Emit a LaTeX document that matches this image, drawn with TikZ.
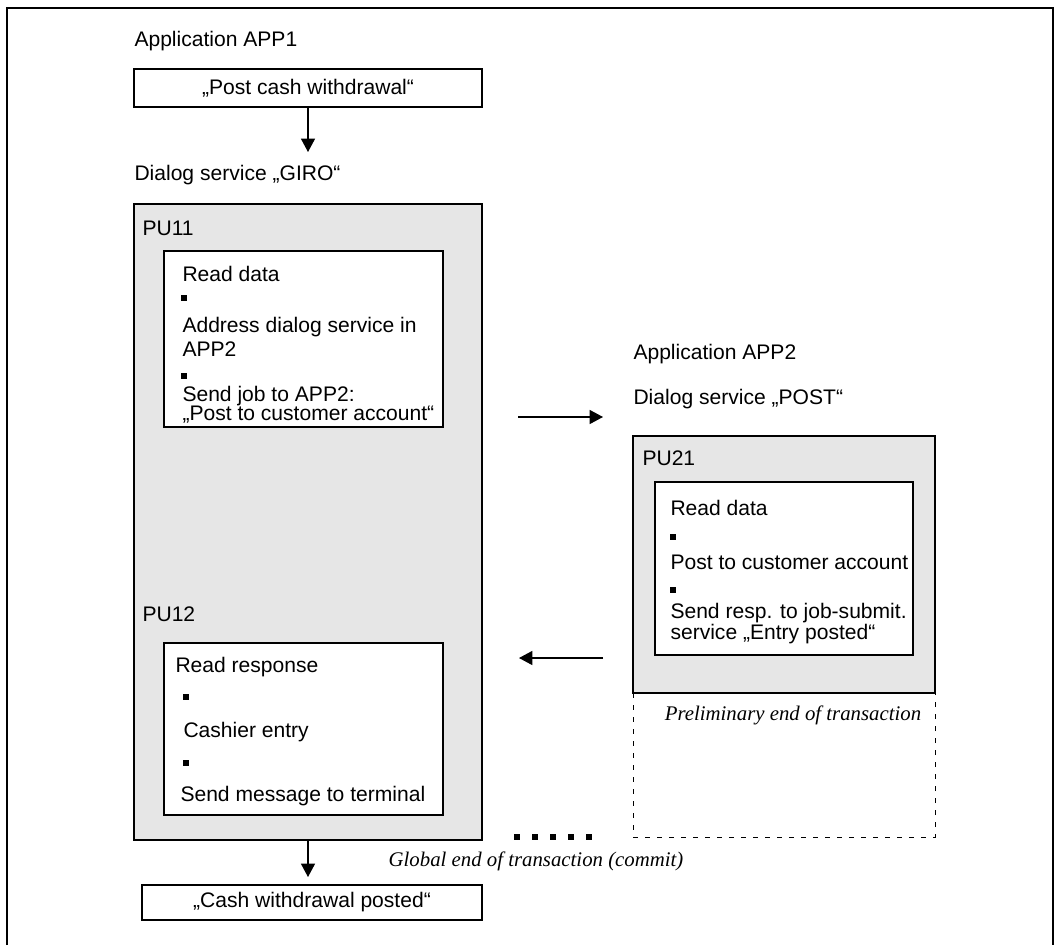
\documentclass[tikz,border=0pt]{standalone}
\usepackage{fontspec}
\setmainfont{Liberation Sans}
\newfontfamily\notefont{Liberation Serif}
\usetikzlibrary{arrows.meta}

\definecolor{pugray}{RGB}{230,230,230}

\tikzset{every picture/.style={line width=0.75pt}}
\tikzset{
	txt/.style={anchor=base west, inner sep=0pt, align=left, font=\fontsize{15.8}{14.25}\selectfont},
	note/.style={anchor=base, inner sep=0pt, font=\notefont\itshape\fontsize{15.6}{18}\selectfont},
	box/.style={draw, fill=white, inner sep=0pt, outer sep=0pt, line width=0.9pt, font=\fontsize{15.8}{18}\selectfont},
	pubox/.style={draw, fill=pugray, inner sep=0pt, outer sep=0pt, line width=0.9pt},
	dot/.style={fill, inner sep=0pt, minimum size=4pt},
	arr/.style={-{Triangle[length=10pt,width=10.5pt]}, line width=0.9pt},
	endline/.style={line width=0.75pt, dash pattern=on 3.75pt off 5.25pt}
}

\begin{document}
\begin{tikzpicture}[x=0.75pt,y=0.75pt,yscale=-1,xscale=1]
	\useasboundingbox (0,0) rectangle (1055,945);

	% Frame
	\draw [line width=1.2pt] (7,945) -- (7,8) -- (1053,8) -- (1053,945) ;

	% Application APP1
	\node [txt] (app1) at (134,47) {Application APP1};
	\node [box, minimum width=261pt, minimum height=28.5pt] (post) at (308,88) {„Post cash withdrawal“};
	\coordinate (giroin) at (308,152);
	\draw [arr] (post) -- (giroin) ;

	% Dialog service GIRO
	\node [txt] (giro) at (134,180) {Dialog service „GIRO“};
	\node [pubox, minimum width=261pt, minimum height=477pt] (pu11) at (308,522) {};

	% PU11
	\node [txt] (pu11lbl) at (142,235) {PU11};
	\node [box, minimum width=209.25pt, minimum height=132pt] (job11) at (303.5,339) {};
	\node [txt] (t11a) at (182,281) {Read data};
	\node [dot] (d11a) at (184,298) {};
	\node [txt] (t11b) at (182,332) {Address dialog service in};
	\node [txt] (t11c) at (182,356) {APP2};
	\node [dot] (d11b) at (184,376) {};
	\node [txt] (t11d) at (182,420) {Send job to APP2:\\„Post to customer account“};

	% PU12
	\node [txt] (pu12lbl) at (142,621) {PU12};
	\node [box, minimum width=209.25pt, minimum height=129pt] (job12) at (303.5,729) {};
	\node [txt] (t12a) at (175,672) {Read response};
	\node [dot] (d12a) at (186,697) {};
	\node [txt] (t12b) at (183,737) {Cashier entry};
	\node [dot] (d12b) at (186,763) {};
	\node [txt] (t12c) at (180,801) {Send message to terminal};

	% Result
	\node [box, minimum width=255pt, minimum height=26.25pt] (cash) at (312,902.5) {„Cash withdrawal posted“};
	\draw [arr, shorten >=6pt] (pu11.south) -- (pu11.south |- cash.north) ;

	% Application APP2
	\node [txt] (app2) at (633,359) {Application APP2};
	\node [txt] (post2) at (633,404) {Dialog service „POST“};
	\node [pubox, minimum width=226.5pt, minimum height=192.75pt] (pu21) at (784,564.5) {};

	% PU21
	\node [txt] (pu21lbl) at (642,465) {PU21};
	\node [box, minimum width=193.5pt, minimum height=129.75pt] (job21) at (784,568.5) {};
	\node [txt] (t21a) at (670,515) {Read data};
	\node [dot] (d21a) at (673,537) {};
	\node [txt] (t21b) at (670,569) {Post to customer account};
	\node [dot] (d21b) at (673,590) {};
	\node [txt] (t21c) at (670,639) {Send resp. to job-submit.\\service „Entry posted“};

	% Job and response
	\coordinate (jobfrom) at (518,417);
	\coordinate (jobto) at (603,417);
	\draw [arr] (jobfrom) -- (jobto) ;
	\coordinate (respfrom) at (603,658);
	\coordinate (respto) at (519,658);
	\draw [arr] (respfrom) -- (respto) ;

	% Preliminary end
	\coordinate (prebl) at (633,837);
	\coordinate (prebr) at (935,837);
	\draw [endline] (pu21.south west) -- (prebl) -- (prebr) -- (pu21.south east) ;
	\node [note] (prelim) at (793,720) {Preliminary end of transaction};

	% Global end
	\foreach \i in {0,...,4} {
		\node [dot] (gdot\i) at (517+18*\i,837) {};
	}
	\node [note] (global) at (536,866) {Global end of transaction (commit)};

\end{tikzpicture}
\end{document}
